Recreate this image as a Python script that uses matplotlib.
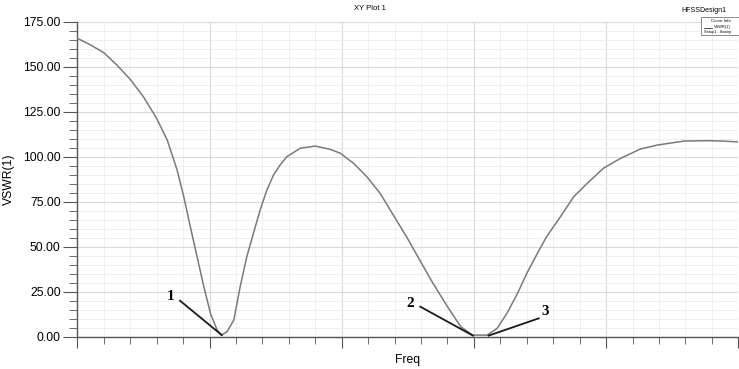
import matplotlib
matplotlib.use('Agg')
import matplotlib.pyplot as plt
from matplotlib.ticker import MultipleLocator, NullFormatter

plt.rcParams['font.family'] = ['Liberation Sans', 'DejaVu Sans']

# curve (freq axis has no labels, 0..5 in grid units)
freq = [0.0, 0.10, 0.20, 0.30, 0.40, 0.50, 0.60, 0.68, 0.755, 0.805, 0.855,
        0.906, 0.957, 1.007, 1.058, 1.09, 1.133, 1.184, 1.232, 1.282, 1.332,
        1.383, 1.434, 1.484, 1.534, 1.585, 1.686, 1.80, 1.913, 1.99, 2.09,
        2.19, 2.29, 2.39, 2.49, 2.59, 2.69, 2.80, 2.90, 2.99, 3.10, 3.175,
        3.25, 3.33, 3.40, 3.48, 3.55, 3.655, 3.755, 3.857, 3.98, 4.11, 4.26,
        4.39, 4.59, 4.77, 4.88, 5.0]
vswr = [165.8, 162.1, 157.8, 150.9, 143.0, 133.3, 121.3, 109.3, 92.6, 77.8,
        61.1, 44.4, 27.8, 13.0, 3.7, 0.9, 2.8, 9.3, 27.8, 44.4, 57.4, 70.4,
        81.5, 89.8, 95.4, 100.0, 104.7, 105.9, 104.1, 101.9, 96.3, 88.9, 79.7,
        67.6, 55.6, 42.6, 29.7, 16.7, 5.6, 0.9, 0.9, 4.6, 13.0, 24.1, 35.2,
        46.3, 55.6, 66.7, 77.8, 85.2, 93.6, 99.1, 104.3, 106.5, 108.7, 108.9,
        108.7, 108.2]

marker_labels = ['1', '2', '3']
marker_text = [(0.707, 22.6), (2.519, 18.7), (3.54, 13.9)]
marker_line = [((0.777, 20.0), (1.093, 0.9)),
               ((2.594, 16.7), (2.993, 0.6)),
               ((3.49, 10.2), (3.111, 0.6))]

fig = plt.figure(figsize=(7.39, 3.69), dpi=100)
ax = fig.add_axes([0.1046, 0.0875, 0.8945, 0.8537])

ax.plot(freq, vswr, color='#7a7a7a', lw=1.1, solid_joinstyle='round', zorder=3)

for lab, (tx, ty), (p0, p1) in zip(marker_labels, marker_text, marker_line):
    ax.plot([p0[0], p1[0]], [p0[1], p1[1]], color='#1a1a1a', lw=1.3, zorder=4)
    ax.text(tx, ty, lab, fontsize=11, fontweight='bold', family='Liberation Serif',
            ha='center', va='center', zorder=5)

ax.set_xlim(0, 5)
ax.set_ylim(0, 175)
ax.xaxis.set_major_locator(MultipleLocator(1))
ax.xaxis.set_minor_locator(MultipleLocator(0.2))
ax.xaxis.set_major_formatter(NullFormatter())
ax.yaxis.set_major_locator(MultipleLocator(25))
ax.yaxis.set_minor_locator(MultipleLocator(5))
ax.yaxis.set_major_formatter(plt.FuncFormatter(lambda v, p: '%.2f' % v))

ax.grid(which='major', color='#d9d9d9', lw=0.8)
ax.grid(which='minor', color='#ececec', lw=0.6)
ax.set_axisbelow(True)

for s in ['top', 'right']:
    ax.spines[s].set_visible(False)
for s in ['left', 'bottom']:
    ax.spines[s].set_color('#555555')
    ax.spines[s].set_linewidth(1.0)

ax.tick_params(axis='y', which='major', length=10, color='#555555', labelsize=8.7, pad=2)
ax.tick_params(axis='y', which='minor', length=6, color='#555555')
ax.tick_params(axis='x', which='major', length=8, color='#555555')
ax.tick_params(axis='x', which='minor', length=5, color='#555555')

ax.set_xlabel('Freq', fontsize=8.7, labelpad=1)
ax.set_ylabel('VSWR(1)', fontsize=8.7, labelpad=6)

fig.text(0.5, 0.978, 'XY Plot 1', fontsize=5.5, ha='center', va='center')
fig.text(0.952, 0.972, 'HFSSDesign1', fontsize=5, ha='center', va='center')

# small curve info box, top right
box = plt.Rectangle((0.948, 0.905), 0.06, 0.05, transform=fig.transFigure,
                    facecolor='white', edgecolor='#777777', lw=0.6, zorder=10)
fig.patches.append(box)
fig.text(0.975, 0.942, 'Curve Info', fontsize=3.2, ha='center', va='center', zorder=11)
fig.lines.append(plt.Line2D([0.952, 0.963], [0.924, 0.924], transform=fig.transFigure,
                            color='#333333', lw=0.6, zorder=11))
fig.text(0.966, 0.926, 'VSWR(1)', fontsize=2.8, ha='left', va='center', zorder=11)
fig.text(0.952, 0.912, 'Setup1 : Sweep', fontsize=2.8, ha='left', va='center', zorder=11)

fig.savefig('out.png', dpi=100)
